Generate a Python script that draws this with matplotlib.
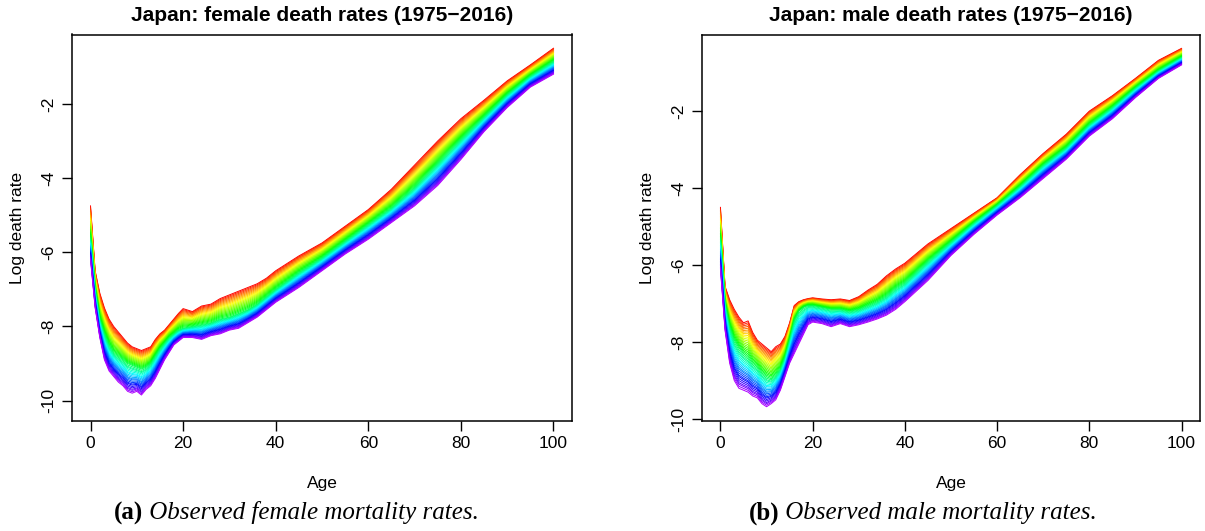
import numpy as np
import matplotlib
matplotlib.use("Agg")
import matplotlib.pyplot as plt
from matplotlib.colors import hsv_to_rgb

ages = [0, 1, 2, 3, 4, 5, 6, 7, 8, 9, 10, 11, 12, 13, 14, 15, 16, 17, 18, 19, 20,
        22, 24, 26, 28, 30, 32, 34, 36, 38, 40,
        45, 50, 55, 60, 65, 70, 75, 80, 85, 90, 95, 100]

years = list(range(1975, 2017))

# female log death rates: 1975 (red), 1995 (green), 2016 (violet)
female_1975 = [-4.75, -6.5, -7.1, -7.5, -7.8, -8.0, -8.15, -8.3, -8.45, -8.55, -8.6,
               -8.65, -8.6, -8.55, -8.35, -8.2, -8.1, -7.95, -7.8, -7.65, -7.52,
               -7.6, -7.45, -7.4, -7.25, -7.15, -7.05, -6.95, -6.85, -6.7, -6.5,
               -6.1, -5.75, -5.3, -4.85, -4.3, -3.65, -3.0, -2.4, -1.9, -1.38, -0.95, -0.5]
female_1995 = [-5.6, -7.0, -7.8, -8.2, -8.5, -8.7, -8.8, -8.9, -9.0, -9.05, -9.1,
               -9.15, -9.1, -9.0, -8.8, -8.6, -8.45, -8.3, -8.2, -8.1, -8.05,
               -8.0, -7.95, -7.9, -7.8, -7.75, -7.65, -7.55, -7.4, -7.2, -7.0,
               -6.55, -6.15, -5.7, -5.25, -4.8, -4.25, -3.6, -2.95, -2.35, -1.75, -1.25, -0.85]
female_2016 = [-6.2, -7.5, -8.3, -8.9, -9.2, -9.35, -9.5, -9.6, -9.75, -9.8, -9.75,
               -9.85, -9.7, -9.6, -9.4, -9.15, -8.9, -8.7, -8.5, -8.4, -8.3,
               -8.3, -8.35, -8.25, -8.2, -8.1, -8.05, -7.9, -7.75, -7.55, -7.35,
               -6.95, -6.5, -6.05, -5.65, -5.2, -4.75, -4.2, -3.5, -2.75, -2.1, -1.55, -1.2]

# male log death rates: 1975, 1995, 2016
male_1975 = [-4.5, -6.55, -6.9, -7.15, -7.35, -7.5, -7.45, -7.75, -7.95, -8.05, -8.15,
             -8.25, -8.12, -8.05, -7.85, -7.5, -7.05, -6.95, -6.9, -6.87, -6.85,
             -6.88, -6.9, -6.88, -6.92, -6.82, -6.65, -6.5, -6.28, -6.1, -5.95,
             -5.45, -5.05, -4.65, -4.25, -3.65, -3.1, -2.6, -2.0, -1.6, -1.15, -0.68, -0.37]
male_1995 = [-5.3, -7.0, -7.6, -7.95, -8.15, -8.3, -8.4, -8.55, -8.65, -8.8, -8.9,
             -8.95, -8.85, -8.7, -8.4, -7.95, -7.45, -7.2, -7.1, -7.05, -7.05,
             -7.1, -7.15, -7.15, -7.2, -7.15, -7.05, -6.95, -6.8, -6.6, -6.45,
             -5.9, -5.4, -4.9, -4.45, -3.95, -3.4, -2.95, -2.35, -1.9, -1.4, -0.95, -0.6]
male_2016 = [-6.1, -7.7, -8.55, -9.0, -9.2, -9.25, -9.3, -9.4, -9.45, -9.6, -9.68,
             -9.6, -9.5, -9.25, -8.9, -8.55, -8.3, -8.05, -7.8, -7.55, -7.48,
             -7.52, -7.6, -7.52, -7.6, -7.55, -7.48, -7.4, -7.3, -7.15, -6.95,
             -6.4, -5.75, -5.2, -4.7, -4.25, -3.75, -3.25, -2.65, -2.2, -1.65, -1.15, -0.8]

# where each year sits in the band: 0 = 1975 curve, 1 = 1995 curve, 2 = 2016 curve
band_pos = [0.0, 0.05, 0.1, 0.15, 0.2, 0.25, 0.3, 0.35, 0.4, 0.45, 0.5, 0.55, 0.6, 0.65,
            0.7, 0.75, 0.8, 0.85, 0.9, 0.95, 1.0, 1.05, 1.1, 1.14, 1.19, 1.24, 1.29, 1.33,
            1.38, 1.43, 1.48, 1.52, 1.57, 1.62, 1.67, 1.71, 1.76, 1.81, 1.86, 1.9, 1.95, 2.0]

plt.rcParams['font.family'] = ['Liberation Sans', 'DejaVu Sans']
plt.rcParams['axes.unicode_minus'] = False


def year_curve(c0, c1, c2, p):
    c0, c1, c2 = np.asarray(c0), np.asarray(c1), np.asarray(c2)
    if p <= 1:
        return c0 + p * (c1 - c0)
    return c1 + (p - 1) * (c2 - c1)


def draw_panel(ax, c0, c1, c2, title, ylim):
    n = len(years)
    for i in range(n):
        col = hsv_to_rgb((i / (n * 1.25), 1.0, 1.0))
        ax.plot(ages, year_curve(c0, c1, c2, band_pos[i]), color=col, lw=0.7)
    ax.set_xlim(-4, 104)
    ax.set_ylim(*ylim)
    ax.set_xticks([0, 20, 40, 60, 80, 100])
    ax.set_yticks([-2, -4, -6, -8, -10])
    ax.tick_params(direction='out', length=7, width=1.0, labelsize=12.5, pad=4)
    for lab in ax.get_yticklabels():
        lab.set_rotation(90)
        lab.set_va('center')
    for s in ax.spines.values():
        s.set_linewidth(1.1)
    ax.set_xlabel("Age", fontsize=12.5, labelpad=18)
    ax.set_ylabel("Log death rate", fontsize=12.5, labelpad=12)
    ax.set_title(title, fontsize=15, fontweight='bold', pad=10)


fig = plt.figure(figsize=(12.05, 5.31), dpi=100)
ax1 = fig.add_axes([72 / 1205, 1 - 421 / 531, 500 / 1205, 386.5 / 531])
ax2 = fig.add_axes([702 / 1205, 1 - 421 / 531, 498 / 1205, 386.5 / 531])

draw_panel(ax1, female_1975, female_1995, female_2016,
           "Japan: female death rates (1975\u22122016)", (-10.55, -0.13))
draw_panel(ax2, male_1975, male_1995, male_2016,
           "Japan: male death rates (1975\u22122016)", (-10.05, -0.01))

# sub-captions, bold label followed by italic text
fig.canvas.draw()
rend = fig.canvas.get_renderer()
for cx, tag, txt in [(296, "(a)", " Observed female mortality rates."),
                     (923, "(b)", " Observed male mortality rates.")]:
    y = 1 - 513 / 531
    t1 = fig.text(0, y, tag, fontsize=18, fontweight='bold', family='Liberation Serif', va='center')
    t2 = fig.text(0, y, txt, fontsize=18, style='italic', family='Liberation Serif', va='center')
    w1 = t1.get_window_extent(rend).width
    w2 = t2.get_window_extent(rend).width
    x0 = cx - (w1 + w2) / 2
    t1.set_x(x0 / 1205)
    t2.set_x((x0 + w1) / 1205)

fig.savefig("out.png", dpi=100)
